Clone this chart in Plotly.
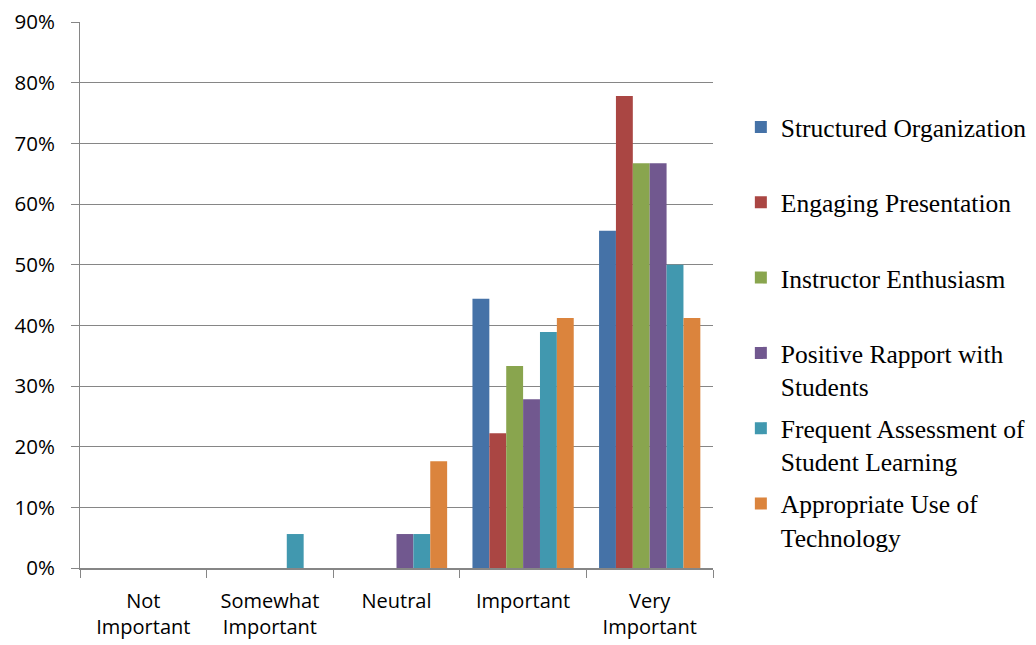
import plotly.graph_objects as go

categories = ["Not<br>Important", "Somewhat<br>Important", "Neutral", "Important", "Very<br>Important"]
series_names = [
    "Structured Organization",
    "Engaging Presentation",
    "Instructor Enthusiasm",
    "Positive Rapport with<br>Students",
    "Frequent Assessment of<br>Student Learning",
    "Appropriate Use of<br>Technology",
]
structured = [0, 0, 0, 0.444, 0.556]
engaging = [0, 0, 0, 0.222, 0.778]
enthusiasm = [0, 0, 0, 0.333, 0.667]
rapport = [0, 0, 0.056, 0.278, 0.667]
assessment = [0, 0.056, 0.056, 0.389, 0.50]
technology = [0, 0, 0.176, 0.412, 0.412]
colors = ["#4572A7", "#AA4643", "#89A54E", "#71588F", "#4198AF", "#DB843D"]

values = [structured, engaging, enthusiasm, rapport, assessment, technology]

fig = go.Figure()
for i, (name, vals) in enumerate(zip(series_names, values)):
    label = name if "<br>" in name else name + "<br> "
    fig.add_trace(go.Bar(
        x=categories, y=vals, name=label,
        marker=dict(color=colors[i], line=dict(width=0)),
        legendgroup=f"g{i}",
    ))

fig.update_layout(
    barmode="group",
    bargap=0.2,
    bargroupgap=0,
    width=1036, height=645,
    margin=dict(l=80, r=323, t=22, b=77, autoexpand=False),
    plot_bgcolor="white", paper_bgcolor="white",
    font=dict(family="Open Sans", size=18, color="black"),
    legend=dict(
        x=1.044, xanchor="left", y=0.85, yanchor="top",
        font=dict(family="Liberation Serif", size=25.5, color="black"),
        valign="top", tracegroupgap=6, itemwidth=30,
    ),
    showlegend=True,
)
fig.update_yaxes(
    range=[0, 0.9], dtick=0.1, tickformat=".0%",
    tickfont=dict(size=20.5), automargin=False,
    showgrid=True, gridcolor="#868686", gridwidth=1,
    showline=True, linecolor="#868686", linewidth=1,
    ticks="outside", ticklen=8, tickcolor="#868686",
    ticklabelstandoff=12, zeroline=False,
)
fig.update_xaxes(
    tickfont=dict(size=20), automargin=False,
    showline=True, linecolor="#868686", linewidth=2,
    ticks="outside", ticklen=8, tickcolor="#868686",
    tickson="boundaries", ticklabelstandoff=14,
)

fig.write_html("out.html")
